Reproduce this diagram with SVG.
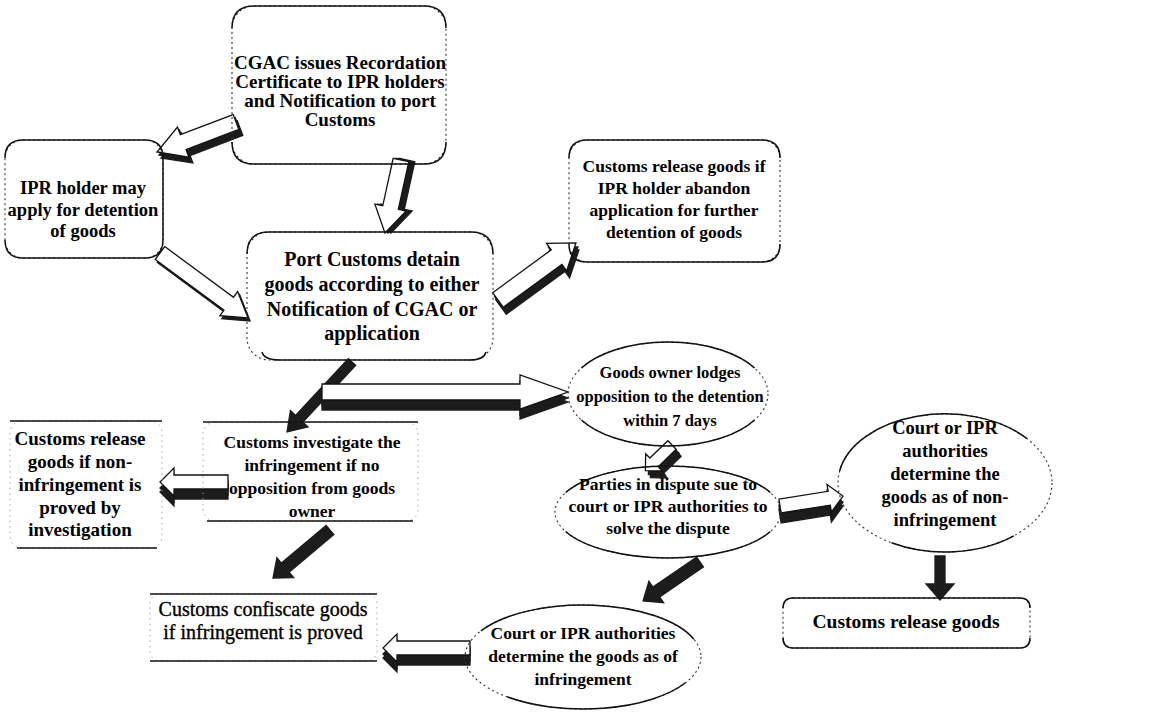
<svg xmlns="http://www.w3.org/2000/svg" xmlns:xlink="http://www.w3.org/1999/xlink" width="1167" height="725" viewBox="0 0 1167 725">
  <style>
    .edge { fill: none; stroke: #111; stroke-width: 1.5; }
    .dots { fill: none; stroke: #333; stroke-width: 1.1; stroke-dasharray: 2 3; }
    .faint { fill: none; stroke: #999; stroke-width: 0.9; stroke-dasharray: 1.5 4; }
    .t { font-family: "Liberation Serif", "Times New Roman", serif; font-weight: bold; fill: #000; text-anchor: middle; }
    .tr { font-family: "Liberation Serif", "Times New Roman", serif; font-weight: normal; fill: #000; stroke: #000; stroke-width: 0.35; text-anchor: middle; }
    .face { fill: #fff; stroke: #111; stroke-width: 1.3; stroke-linejoin: miter; }
    .side { fill: #1c1c1c; stroke: #1c1c1c; stroke-width: 1.3; }
  </style>
  <defs>
    <!-- block arrow outlines, tail at origin, tip at (L,0) -->
    <path id="a1" d="M0,-8 H56.5 V-16 L84.5,0 L56.5,16 V8 H0 Z"/>
    <path id="a2" d="M0,-8 H48.7 V-16 L74.7,0 L48.7,16 V8 H0 Z"/>
    <path id="a3" d="M0,-8 H85.4 V-15 L109.4,0 L85.4,15 V8 H0 Z"/>
    <path id="a4" d="M0,-9 H72.6 V-17 L96.6,0 L72.6,17 V9 H0 Z"/>
    <path id="a5" d="M0,-5 H77.5 V-12 L95.5,0 L77.5,12 V5 H0 Z"/>
    <path id="a6" d="M0,-8 H198 V-17 L246,0 L198,17 V8 H0 Z"/>
    <path id="a7" d="M0,-7 H54 V-14 L68,0 L54,14 V7 H0 Z"/>
    <path id="a8" d="M0,-6 H25 V-12 L37,0 L25,12 V6 H0 Z"/>
    <path id="a9" d="M0,-7 H49.8 V-14 L63.8,0 L49.8,14 V7 H0 Z"/>
    <path id="a10" d="M0,-5 H28 V-14 L44,0 L28,14 V5 H0 Z"/>
    <path id="a11" d="M0,-6 H53 V-13 L69,0 L53,13 V6 H0 Z"/>
    <path id="a12" d="M0,-6 H58.5 V-13 L74.5,0 L58.5,13 V6 H0 Z"/>
    <path id="a13" d="M0,-7 H73 V-14 L87,0 L73,14 V7 H0 Z"/>
  </defs>

  <rect width="1167" height="725" fill="#fff"/>

  <!-- connectors: 3D block arrows (dark side drawn first, face on top) -->
  <g id="connectors">
    <g id="c-cgac-holder">
      <use xlink:href="#a1" class="side" transform="translate(240,128) rotate(159.2)"/>
      <use xlink:href="#a1" class="side" transform="translate(238,125) rotate(159.2)"/>
      <use xlink:href="#a1" class="face" transform="translate(236,122) rotate(159.2)"/>
    </g>
    <g id="c-cgac-port">
      <use xlink:href="#a2" class="side" transform="translate(407,160) rotate(102.4)"/>
      <use xlink:href="#a2" class="side" transform="translate(404,160) rotate(102.4)"/>
      <use xlink:href="#a2" class="face" transform="translate(401,160) rotate(102.4)"/>
    </g>
    <g id="c-holder-port">
      <use xlink:href="#a3" class="side" transform="translate(162,256) rotate(36.4)"/>
      <use xlink:href="#a3" class="face" transform="translate(160,253) rotate(36.4)"/>
    </g>
    <g id="c-port-abandon">
      <use xlink:href="#a4" class="side" transform="translate(501,307) rotate(-36.2)"/>
      <use xlink:href="#a4" class="side" transform="translate(500,304) rotate(-36.2)"/>
      <use xlink:href="#a4" class="face" transform="translate(498,300) rotate(-36.2)"/>
    </g>
    <g id="c-port-investigate">
      <use xlink:href="#a5" class="side" transform="translate(352,362) rotate(132.9)"/>
    </g>
    <g id="c-port-opposition">
      <use xlink:href="#a6" class="side" transform="translate(322,402) rotate(0)"/>
      <use xlink:href="#a6" class="side" transform="translate(322,398) rotate(0)"/>
      <use xlink:href="#a6" class="face" transform="translate(322,392) rotate(0)"/>
    </g>
    <g id="c-investigate-release">
      <use xlink:href="#a7" class="side" transform="translate(228,492) rotate(180)"/>
      <use xlink:href="#a7" class="side" transform="translate(228,488) rotate(180)"/>
      <use xlink:href="#a7" class="face" transform="translate(228,482) rotate(180)"/>
    </g>
    <g id="c-opposition-sue">
      <use xlink:href="#a8" class="side" transform="translate(677,452) rotate(136)"/>
      <use xlink:href="#a8" class="side" transform="translate(675,449) rotate(136)"/>
      <use xlink:href="#a8" class="face" transform="translate(672,445) rotate(136)"/>
    </g>
    <g id="c-sue-noninfringe">
      <use xlink:href="#a9" class="side" transform="translate(780,516) rotate(-9)"/>
      <use xlink:href="#a9" class="side" transform="translate(780,512) rotate(-9)"/>
      <use xlink:href="#a9" class="face" transform="translate(780,506) rotate(-9)"/>
    </g>
    <g id="c-noninfringe-release">
      <use xlink:href="#a10" class="side" transform="translate(940,556) rotate(90)"/>
    </g>
    <g id="c-sue-infringe">
      <use xlink:href="#a11" class="side" transform="translate(700,562) rotate(145.6)"/>
    </g>
    <g id="c-investigate-confiscate">
      <use xlink:href="#a12" class="side" transform="translate(330,530) rotate(139.9)"/>
    </g>
    <g id="c-infringe-confiscate">
      <use xlink:href="#a13" class="side" transform="translate(470,658) rotate(180)"/>
      <use xlink:href="#a13" class="side" transform="translate(470,654) rotate(180)"/>
      <use xlink:href="#a13" class="face" transform="translate(470,648) rotate(180)"/>
    </g>
  </g>

  <!-- process steps: rounded boxes with firm top/bottom edges and broken sides -->
  <g id="n-cgac">
    <rect x="232" y="6" width="214" height="158" rx="22" fill="#fff" class="dots"/>
    <path class="edge" d="M232,28 Q232,6 254,6 H424 Q446,6 446,28"/>
    <path class="edge" d="M232,142 Q232,164 254,164 H424 Q446,164 446,142"/>
    <text class="t" font-size="19" x="340" y="69">CGAC issues Recordation</text>
    <text class="t" font-size="19" x="340" y="88">Certificate to IPR holders</text>
    <text class="t" font-size="19" x="340" y="107">and Notification to port</text>
    <text class="t" font-size="19" x="340" y="126">Customs</text>
  </g>

  <g id="n-holder">
    <rect x="5" y="140" width="158" height="118" rx="18" fill="#fff" class="dots"/>
    <path class="edge" d="M5,158 Q5,140 23,140 H145 Q163,140 163,158 V240"/>
    <path class="edge" d="M5,240 Q5,258 23,258 H145 Q163,258 163,240"/>
    <text class="t" font-size="18.5" x="83" y="194">IPR holder may</text>
    <text class="t" font-size="18.5" x="83" y="216">apply for detention</text>
    <text class="t" font-size="18.5" x="83" y="237">of goods</text>
  </g>

  <g id="n-abandon">
    <rect x="569" y="140" width="211" height="122" rx="18" fill="#fff" class="dots"/>
    <path class="edge" d="M569,158 Q569,140 587,140 H762 Q780,140 780,158"/>
    <path class="edge" d="M569,244 Q569,262 587,262 H762 Q780,262 780,244"/>
    <text class="t" font-size="17.5" x="674" y="172">Customs release goods if</text>
    <text class="t" font-size="17.5" x="674" y="194">IPR holder abandon</text>
    <text class="t" font-size="17.5" x="674" y="216">application for further</text>
    <text class="t" font-size="17.5" x="674" y="238">detention of goods</text>
  </g>

  <g id="n-port">
    <rect x="247" y="232" width="246" height="128" rx="22" fill="#fff" class="dots"/>
    <path class="edge" d="M247,254 Q247,232 269,232 H471 Q493,232 493,254"/>
    <path class="edge" d="M262,352 Q264,360 280,360 H470 Q484,360 486,352"/>
    <text class="t" font-size="20" x="372" y="266">Port Customs detain</text>
    <text class="t" font-size="20" x="372" y="291">goods according to either</text>
    <text class="t" font-size="20" x="372" y="316">Notification of CGAC or</text>
    <text class="t" font-size="20" x="372" y="340">application</text>
  </g>

  <g id="n-opposition">
    <ellipse class="dots" cx="668" cy="394" rx="100" ry="52"/>
    <path class="edge" d="M581.4,368 A100,52 0 0 1 754.6,368"/>
    <path class="edge" d="M581.4,420 A100,52 0 0 0 754.6,420"/>
    <text class="t" font-size="16.5" x="670" y="378">Goods owner lodges</text>
    <text class="t" font-size="16.5" x="670" y="402">opposition to the detention</text>
    <text class="t" font-size="16.5" x="670" y="426">within 7 days</text>
  </g>

  <g id="n-investigate">
    <rect class="faint" x="203" y="422" width="215" height="99" rx="12"/>
    <line class="edge" x1="203" y1="422" x2="418" y2="422"/>
    <line class="edge" x1="207" y1="521" x2="413" y2="521"/>
    <text class="t" font-size="17.5" x="312" y="448">Customs investigate the</text>
    <text class="t" font-size="17.5" x="312" y="471">infringement if no</text>
    <text class="t" font-size="17.5" x="312" y="494">opposition from goods</text>
    <text class="t" font-size="17.5" x="312" y="517">owner</text>
  </g>

  <g id="n-release-noninfringe">
    <rect class="faint" x="10" y="421" width="152" height="127" rx="12"/>
    <line class="edge" x1="10" y1="421" x2="162" y2="421"/>
    <line class="edge" x1="17" y1="548" x2="157" y2="548"/>
    <text class="t" font-size="19" x="80" y="445">Customs release</text>
    <text class="t" font-size="19" x="80" y="468">goods if non-</text>
    <text class="t" font-size="19" x="80" y="491">infringement is</text>
    <text class="t" font-size="19" x="80" y="514">proved by</text>
    <text class="t" font-size="19" x="80" y="536">investigation</text>
  </g>

  <g id="n-sue">
    <ellipse class="dots" cx="668" cy="512" rx="113" ry="46"/>
    <path class="edge" d="M565.6,492.5 A113,46 0 0 1 770.4,492.5"/>
    <path class="edge" d="M565.6,531.5 A113,46 0 0 0 770.4,531.5"/>
    <text class="t" font-size="17.5" x="668" y="490">Parties in dispute sue to</text>
    <text class="t" font-size="17.5" x="668" y="512">court or IPR authorities to</text>
    <text class="t" font-size="17.5" x="668" y="534">solve the dispute</text>
  </g>

  <g id="n-noninfringe">
    <ellipse class="dots" cx="945" cy="483" rx="107" ry="69"/>
    <path class="edge" d="M839.6,471 A107,69 0 0 1 1027,438.6"/>
    <path class="edge" d="M891.5,542.8 A107,69 0 0 0 1013.8,535.9"/>
    <text class="t" font-size="18.5" x="945" y="434">Court or IPR</text>
    <text class="t" font-size="18.5" x="945" y="457">authorities</text>
    <text class="t" font-size="18.5" x="945" y="480">determine the</text>
    <text class="t" font-size="18.5" x="945" y="503">goods as of non-</text>
    <text class="t" font-size="18.5" x="945" y="526">infringement</text>
  </g>

  <g id="n-release">
    <rect x="783" y="598" width="247" height="50" rx="10" fill="#fff" class="dots"/>
    <path class="edge" d="M783,608 Q783,598 793,598 H1020 Q1030,598 1030,608"/>
    <path class="edge" d="M783,638 Q783,648 793,648 H1020 Q1030,648 1030,638"/>
    <text class="t" font-size="19.5" x="906" y="628">Customs release goods</text>
  </g>

  <g id="n-infringe">
    <ellipse class="dots" cx="583" cy="657" rx="118" ry="52"/>
    <path class="edge" d="M480.8,631 A118,52 0 0 1 693.9,639.2"/>
    <path class="edge" d="M507.2,696.8 A118,52 0 0 0 685.2,683"/>
    <text class="t" font-size="17.5" x="583" y="639">Court or IPR authorities</text>
    <text class="t" font-size="17.5" x="583" y="662">determine the goods as of</text>
    <text class="t" font-size="17.5" x="583" y="685">infringement</text>
  </g>

  <g id="n-confiscate">
    <rect class="faint" x="150" y="594" width="227" height="67" rx="10"/>
    <line class="edge" x1="150" y1="594" x2="377" y2="594"/>
    <line class="edge" x1="150" y1="661" x2="377" y2="661"/>
    <text class="tr" font-size="20" x="263" y="616">Customs confiscate goods</text>
    <text class="tr" font-size="20" x="263" y="639">if infringement is proved</text>
  </g>
</svg>
